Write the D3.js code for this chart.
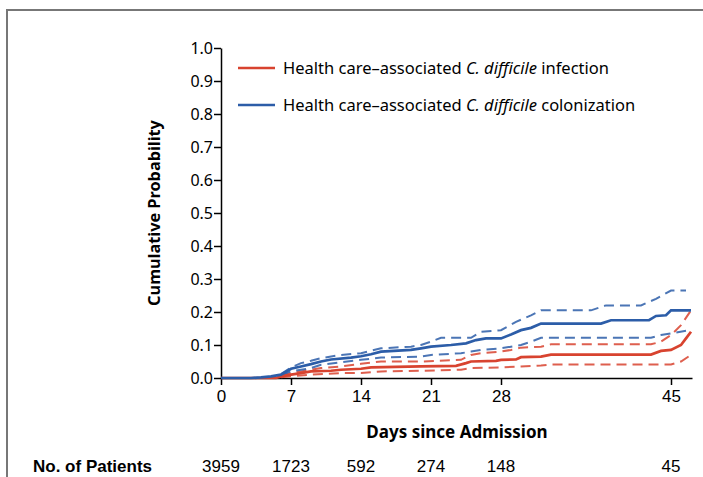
<!DOCTYPE html>
<html>
<head>
<meta charset="utf-8">
<script src="https://cdn.jsdelivr.net/npm/d3@7"></script>
<style>
  body { margin: 0; background: #fff; }
  svg { display: block; }
</style>
</head>
<body>
<div id="chart"></div>
<script>
// cumulative probability curves, [day, probability]
const colonization = [[0,0],[3,0],[4,0.002],[5,0.005],[6,0.01],[7,0.028],[8,0.035],[9,0.042],[10,0.05],[11,0.056],[13,0.062],[14,0.066],[15,0.072],[16,0.08],[19,0.085],[20,0.09],[21,0.095],[23,0.1],[24.5,0.105],[25.5,0.115],[26.5,0.12],[28,0.12],[29,0.132],[30,0.145],[31,0.152],[32,0.165],[38,0.165],[39,0.175],[42.8,0.175],[43.5,0.188],[44.5,0.19],[45,0.205],[47,0.205]];
const colonizationUpper = [[6,0.012],[7,0.032],[8,0.045],[9,0.052],[10,0.06],[12,0.07],[14,0.075],[16,0.09],[19,0.095],[20,0.1],[21,0.11],[22,0.122],[25,0.122],[26,0.14],[28,0.145],[29.5,0.17],[31,0.19],[32,0.205],[37,0.205],[38.5,0.22],[42,0.22],[43.5,0.24],[45,0.265],[46.5,0.265]];
const colonizationLower = [[6,0.008],[7,0.02],[8,0.025],[9,0.03],[10,0.04],[12,0.048],[14,0.055],[16,0.062],[20,0.065],[21,0.07],[24,0.075],[25,0.08],[26,0.085],[28,0.09],[29,0.095],[30,0.1],[31,0.11],[32,0.122],[43,0.122],[44,0.13],[45,0.135],[46.5,0.143]];
const infection = [[0,0],[5.5,0],[6,0.005],[7,0.01],[8,0.015],[9,0.02],[11,0.022],[12,0.025],[14,0.028],[15,0.032],[20,0.035],[23.5,0.037],[24.5,0.045],[25,0.05],[27.5,0.052],[28,0.055],[29.5,0.056],[30,0.063],[32,0.065],[33,0.071],[43,0.071],[44,0.082],[45,0.085],[46,0.1],[46.5,0.12],[47,0.14]];
const infectionUpper = [[6,0.007],[7,0.015],[9,0.025],[10,0.03],[12,0.035],[14,0.043],[16,0.05],[20,0.05],[24,0.055],[25,0.07],[26,0.075],[28,0.08],[29,0.085],[30,0.092],[32,0.095],[33,0.102],[43,0.102],[44,0.11],[45,0.13],[46,0.16],[47,0.205]];
const infectionLower = [[6,0.002],[7,0.005],[9,0.01],[12,0.015],[14,0.015],[16,0.02],[20,0.022],[24,0.025],[25,0.03],[28,0.032],[30,0.035],[32,0.038],[33,0.041],[45,0.041],[46,0.05],[47,0.07]];

const legendLabels = ["infection", "colonization"];
const xTicks = [0, 7, 14, 21, 28, 45];
const yTicks = [0, 0.1, 0.2, 0.3, 0.4, 0.5, 0.6, 0.7, 0.8, 0.9, 1.0];
const patients = [3959, 1723, 592, 274, 148, 45];

const red = "#d8432f";
const blue = "#2c5da8";

const svg = d3.select("#chart").append("svg")
  .attr("width", 703)
  .attr("height", 477);

// frame remnants at top and left
svg.append("path")
  .attr("d", "M7,477 V10 H703")
  .attr("fill", "none")
  .attr("stroke", "#777")
  .attr("stroke-width", 2);

const x = d3.scaleLinear().domain([0, 47.1]).range([221, 692]);
const y = d3.scaleLinear().domain([0, 1]).range([378, 48]);

const yAxis = svg.append("g")
  .attr("transform", "translate(221,0)")
  .call(d3.axisLeft(y).tickValues(yTicks).tickFormat(d3.format(".1f")).tickSize(7).tickSizeOuter(0));
yAxis.select(".domain").attr("stroke", "#000").attr("stroke-width", 1.5);
yAxis.selectAll(".tick line").attr("stroke-width", 1.5);
yAxis.selectAll("text")
  .attr("font-family", "Noto Sans, sans-serif")
  .attr("font-size", "16px")
  .attr("fill", "#000")
  .attr("x", -8);

const xAxis = svg.append("g")
  .attr("transform", "translate(0,378)")
  .call(d3.axisBottom(x).tickValues(xTicks).tickSize(7).tickSizeOuter(0));
xAxis.select(".domain").attr("stroke-width", 1.5);
xAxis.selectAll(".tick line").attr("stroke-width", 1.5);
xAxis.selectAll("text")
  .attr("font-family", "Liberation Sans Narrow, Liberation Sans, sans-serif")
  .attr("font-size", "17px")
  .attr("fill", "#000")
  .attr("y", 12);

const line = d3.line()
  .x(d => x(d[0]))
  .y(d => y(d[1]));

const series = [
  {data: infectionLower, color: red, dash: true},
  {data: infectionUpper, color: red, dash: true},
  {data: colonizationLower, color: blue, dash: true},
  {data: colonizationUpper, color: blue, dash: true},
  {data: infection, color: red, dash: false},
  {data: colonization, color: blue, dash: false}
];

svg.append("g").selectAll("path")
  .data(series)
  .join("path")
    .attr("d", d => line(d.data))
    .attr("fill", "none")
    .attr("stroke", d => d.color)
    .attr("stroke-width", d => d.dash ? 2 : 2.7)
    .attr("stroke-dasharray", d => d.dash ? "10,6" : null)
    .attr("stroke-opacity", d => d.dash ? 0.85 : 1);

// legend
const legend = svg.append("g");
legendLabels.forEach((lab, i) => {
  const ly = 68 + i * 37;
  legend.append("line")
    .attr("x1", 238).attr("x2", 275)
    .attr("y1", ly).attr("y2", ly)
    .attr("stroke", i == 0 ? red : blue)
    .attr("stroke-width", 2.7);
  const t = legend.append("text")
    .attr("x", 283)
    .attr("y", ly + 6)
    .attr("font-family", "Noto Sans, sans-serif")
    .attr("font-size", "16.5px");
  t.append("tspan").text("Health care\u2013associated ");
  t.append("tspan").attr("font-style", "italic").text("C. difficile");
  t.append("tspan").text(" " + lab);
});

svg.append("text")
  .attr("transform", "translate(160,213) rotate(-90)")
  .attr("text-anchor", "middle")
  .attr("font-family", "Noto Sans, sans-serif")
  .attr("font-weight", "bold")
  .attr("font-size", "16.3px")
  .text("Cumulative Probability");

svg.append("text")
  .attr("x", 457)
  .attr("y", 438)
  .attr("text-anchor", "middle")
  .attr("font-family", "Noto Sans, sans-serif")
  .attr("font-weight", "bold")
  .attr("font-size", "17px")
  .text("Days since Admission");

svg.append("text")
  .attr("x", 33)
  .attr("y", 472)
  .attr("font-family", "Liberation Sans Narrow, Liberation Sans, sans-serif")
  .attr("font-weight", "bold")
  .attr("font-size", "17px")
  .text("No. of Patients");

svg.append("g").selectAll("text")
  .data(patients)
  .join("text")
    .attr("x", (d, i) => x(xTicks[i]))
    .attr("y", 472)
    .attr("text-anchor", "middle")
    .attr("font-family", "Liberation Sans Narrow, Liberation Sans, sans-serif")
    .attr("font-size", "17px")
    .text(d => d);
</script>
</body>
</html>
